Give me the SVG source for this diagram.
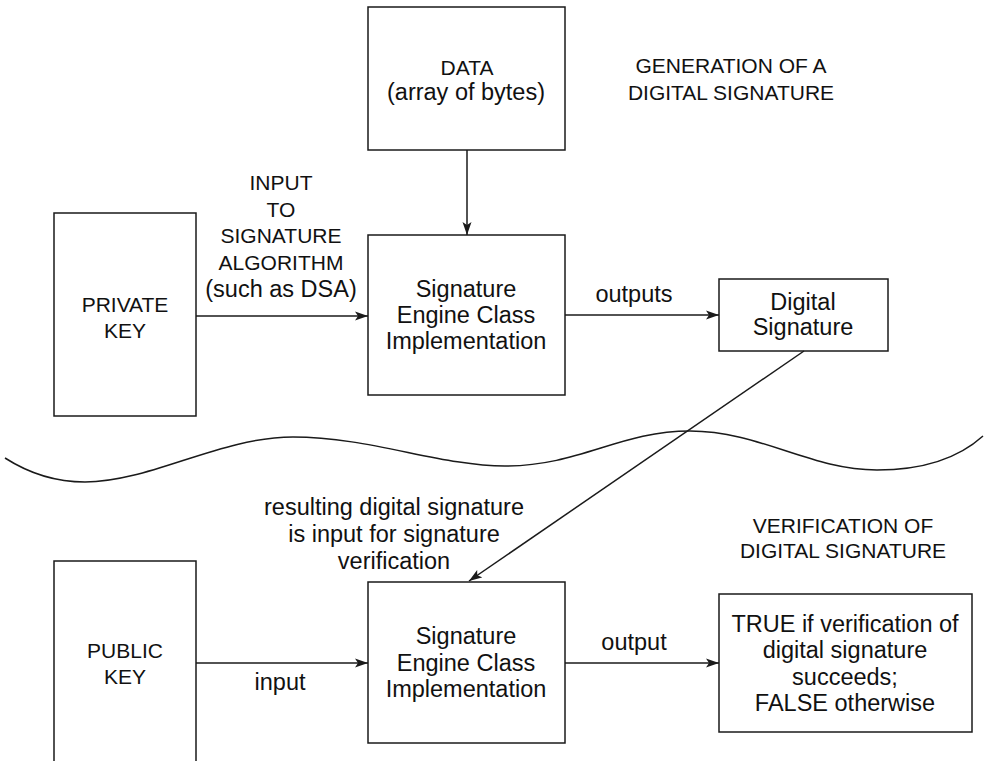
<svg xmlns="http://www.w3.org/2000/svg" width="984" height="761" viewBox="0 0 984 761">
<style>
.box{fill:#fff;stroke:#1a1a1a;stroke-width:1.5}
.ln{fill:none;stroke:#1a1a1a;stroke-width:1.5}
text{font-family:"Liberation Sans",Arial,sans-serif;fill:#111;text-anchor:middle}
.m{font-size:23.5px}
.c{font-size:21px}
</style>
<defs>
<marker id="ah" markerUnits="userSpaceOnUse" markerWidth="14" markerHeight="10" refX="13" refY="5" orient="auto">
<path d="M0,0.5 L13,5 L0,9.5 L3,5 z" fill="#1a1a1a"/>
</marker>
</defs>
<g id="data"><rect class="box" x="368" y="7" width="197" height="143"/>
<text class="c" x="467" y="75">DATA</text><text class="m" x="466" y="100">(array of bytes)</text></g>
<g id="gen-title"><text class="c" x="731" y="73">GENERATION OF A</text><text class="c" x="731" y="100">DIGITAL SIGNATURE</text></g>
<g id="private-key"><rect class="box" x="54" y="213" width="142" height="203"/>
<text class="c" x="125" y="312">PRIVATE</text><text class="c" x="125" y="338">KEY</text></g>
<g id="engine1"><rect class="box" x="368" y="235" width="197" height="160"/>
<text class="m" x="466" y="297">Signature</text><text class="m" x="466" y="323">Engine Class</text><text class="m" x="466" y="349">Implementation</text></g>
<g id="digital-signature"><rect class="box" x="719" y="279" width="169" height="72"/>
<text class="m" x="803" y="310">Digital</text><text class="m" x="803" y="335">Signature</text></g>
<g id="separator"><path class="ln" d="M5,458 C30,474 55,482 85,482 C150,482 220,437 293,437 C370,437 440,466 505,466 C580,466 620,431 690,431 C760,431 810,470 877,470 C930,470 962,455 983,436"/></g>
<g id="ver-title"><text class="c" x="843" y="533">VERIFICATION OF</text><text class="c" x="843" y="558">DIGITAL SIGNATURE</text></g>
<g id="public-key"><path class="box" d="M54,770 V561 H196 V770"/>
<text class="c" x="125" y="658">PUBLIC</text><text class="c" x="125" y="684">KEY</text></g>
<g id="engine2"><rect class="box" x="368" y="582" width="197" height="161"/>
<text class="m" x="466" y="644">Signature</text><text class="m" x="466" y="671">Engine Class</text><text class="m" x="466" y="697">Implementation</text></g>
<g id="result"><rect class="box" x="719" y="594" width="253" height="138"/>
<text class="m" x="845" y="632">TRUE if verification of</text><text class="m" x="845" y="658">digital signature</text><text class="m" x="845" y="685">succeeds;</text><text class="m" x="845" y="711">FALSE otherwise</text></g>
<g id="connectors">
<line class="ln" x1="467" y1="150" x2="467" y2="235" marker-end="url(#ah)"/>
<line class="ln" x1="196" y1="316" x2="368" y2="316" marker-end="url(#ah)"/>
<line class="ln" x1="565" y1="315" x2="719" y2="315" marker-end="url(#ah)"/>
<line class="ln" x1="804" y1="351" x2="469" y2="581" marker-end="url(#ah)"/>
<line class="ln" x1="196" y1="663" x2="368" y2="663" marker-end="url(#ah)"/>
<line class="ln" x1="565" y1="663" x2="719" y2="663" marker-end="url(#ah)"/>
</g>
<g id="labels">
<text class="c" x="281" y="190">INPUT</text><text class="c" x="281" y="217">TO</text><text class="c" x="281" y="243">SIGNATURE</text><text class="c" x="281" y="270">ALGORITHM</text><text class="m" x="281" y="297">(such as DSA)</text>
<text class="m" x="634" y="302">outputs</text>
<text class="m" x="394" y="515">resulting digital signature</text><text class="m" x="394" y="542">is input for signature</text><text class="m" x="394" y="569">verification</text>
<text class="m" x="280" y="690">input</text>
<text class="m" x="634" y="650">output</text>
</g>
</svg>
